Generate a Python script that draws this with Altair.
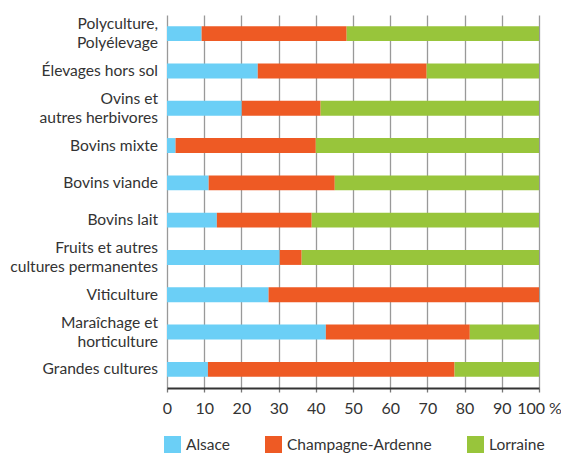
import altair as alt
import pandas as pd

categories = ["Polyculture,|Polyélevage", "Élevages hors sol", "Ovins et|autres herbivores",
              "Bovins mixte", "Bovins viande", "Bovins lait",
              "Fruits et autres|cultures permanentes", "Viticulture",
              "Maraîchage et|horticulture", "Grandes cultures"]
regions = ["Alsace", "Champagne-Ardenne", "Lorraine"]
alsace = [9.3, 24.4, 20.1, 2.3, 11.2, 13.4, 30.3, 27.3, 42.7, 11.0]
champagne = [39.0, 45.4, 21.2, 37.7, 33.9, 25.5, 5.9, 72.7, 38.7, 66.3]
lorraine = [51.7, 30.2, 58.7, 60.0, 54.9, 61.1, 63.8, 0.0, 18.6, 22.7]
colors = ["#6bcff6", "#ee5a24", "#98c53b"]
x_ticks = [0, 10, 20, 30, 40, 50, 60, 70, 80, 90, 100]

rows = []
for series_idx, (reg, vals) in enumerate(zip(regions, [alsace, champagne, lorraine])):
    for cat, v in zip(categories, vals):
        rows.append({"cat": cat, "region": reg, "value": v, "ord": series_idx})
df = pd.DataFrame(rows)

lab_rows = []
for cat in categories:
    parts = cat.split("|")
    n = len(parts)
    for i, p in enumerate(parts):
        kind = "single" if n == 1 else ("first" if i == 0 else "second")
        lab_rows.append({"cat": cat, "line": p, "kind": kind})
labdf = pd.DataFrame(lab_rows)

FONT = "Lato"
FS = 15.5
FSY = 15.6
TXT = "#333333"

ysc = alt.Scale(paddingInner=0.6, paddingOuter=0.3)

bars = alt.Chart(df).mark_bar().encode(
    y=alt.Y("cat:N", sort=categories, title=None, scale=ysc,
            axis=alt.Axis(labels=False, ticks=False, domainColor=TXT,
                          domainWidth=2, grid=False)),
    x=alt.X("value:Q", stack="zero", title=None,
            scale=alt.Scale(domain=[0, 100], nice=False),
            axis=alt.Axis(values=x_ticks, labelExpr="datum.value == 100 ? '100 %' : datum.label",
                          labelFont=FONT, labelFontSize=16, labelColor=TXT,
                          grid=True, gridColor="#999999", gridWidth=1.3,
                          tickColor="#777777", tickSize=4, tickWidth=1.3,
                          domainColor=TXT, domainWidth=2, labelPadding=8,
                          labelFlush=False)),
    color=alt.Color("region:N", sort=regions,
                    scale=alt.Scale(domain=regions, range=colors),
                    legend=alt.Legend(title=None, orient="none", direction="horizontal",
                                      legendX=-3, legendY=421,
                                      symbolType="square", symbolSize=289,
                                      symbolStrokeWidth=0, labelFont=FONT,
                                      labelFontSize=FS, labelColor=TXT, labelLimit=300,
                                      labelOffset=5, columnPadding=35)),
    order=alt.Order("ord:Q"),
)

def lab_layer(kind, dy):
    return alt.Chart(labdf).transform_filter(
        alt.datum.kind == kind
    ).mark_text(align="right", baseline="middle", dy=dy, font=FONT,
                fontSize=FSY, color=TXT).encode(
        y=alt.Y("cat:N", sort=categories, scale=ysc, axis=None),
        x=alt.value(-9),
        text="line:N",
    )

chart = alt.layer(
    bars, lab_layer("single", 0), lab_layer("first", -9.5), lab_layer("second", 9.5)
).properties(
    width=372, height=373,
    autosize=alt.AutoSizeParams(type="none"),
    padding={"left": 159, "top": 7, "right": 22, "bottom": 68},
).configure_view(stroke=None)

chart.save("out.html", embed_options={"renderer": "svg", "actions": False})
